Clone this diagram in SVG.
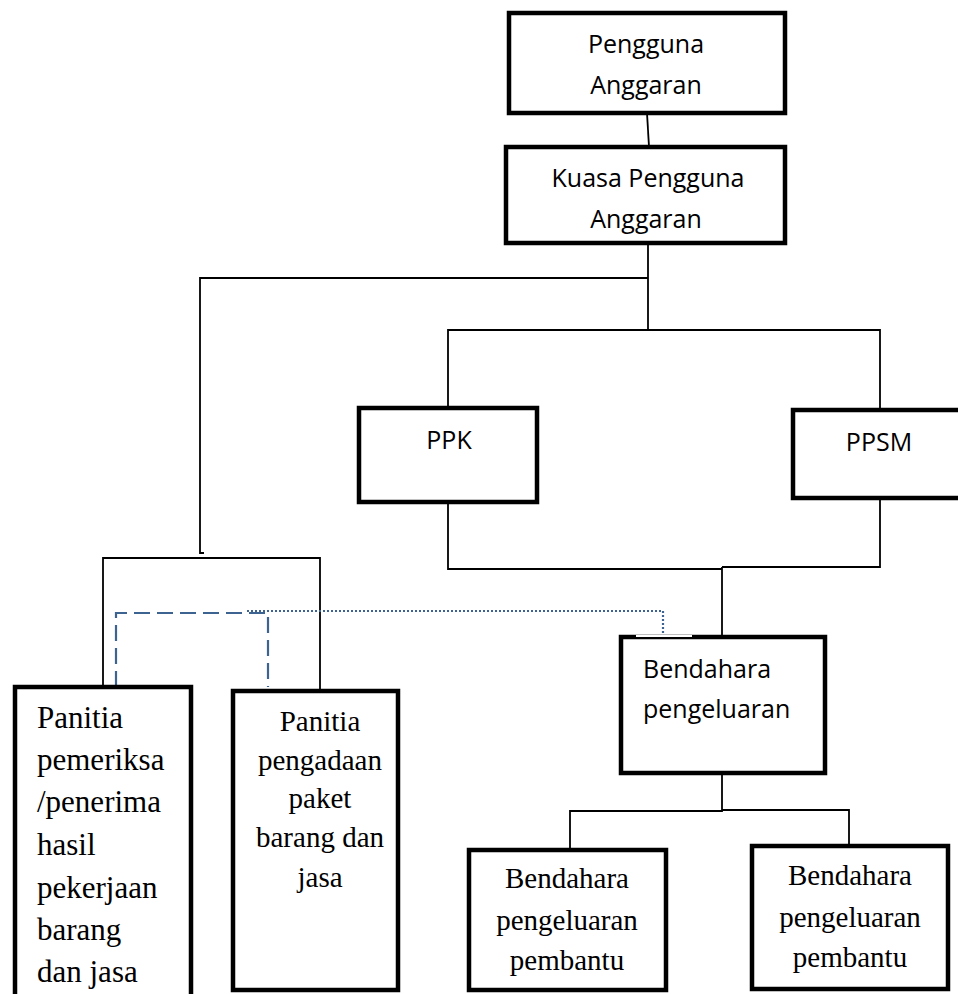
<svg xmlns="http://www.w3.org/2000/svg" width="958" height="994" viewBox="0 0 958 994">
<style>
.box{fill:#fff;stroke:#000;stroke-width:4.5}
.ln{fill:none;stroke:#000;stroke-width:1.8}
.dash{fill:none;stroke:#3d6391;stroke-width:2.2;stroke-dasharray:16 7}
.dot{fill:none;stroke:#3d6391;stroke-width:2.2;stroke-dasharray:2 2}
.s{font-family:"Open Sans","Liberation Sans",sans-serif;font-size:25px;fill:#000}
.t{font-family:"Liberation Serif","Times New Roman",serif;fill:#000}
</style>
<rect width="958" height="994" fill="#fff"/>
<g id="connectors">
<polyline class="ln" points="647,113 649,147"/>
<polyline class="ln" points="648,243 648,330"/>
<polyline class="ln" points="648,278 200,278 200,553 204,553"/>
<polyline class="ln" points="448,408 448,330 880,330 880,410"/>
<polyline class="ln" points="448,502 448,569 722,569"/>
<polyline class="ln" points="880,498 880,567 722,567"/>
<polyline class="ln" points="722,567 722,637"/>
<polyline class="ln" points="103,685 103,558 320,558 320,689"/>
<polyline class="ln" points="722,773 722,811 570,811 570,850"/>
<polyline class="ln" points="722,810 849,810 849,846"/>
<polyline class="dash" points="116,687 116,613 268,613 268,687"/>
<polyline class="dot" points="247,611 663,611 663,637"/>
</g>
<g id="pengguna-anggaran">
<rect class="box" x="509" y="13" width="276" height="100"/>
<text class="s" x="646" y="53" text-anchor="middle">Pengguna</text>
<text class="s" x="646" y="94" text-anchor="middle">Anggaran</text>
</g>
<g id="kuasa-pengguna-anggaran">
<rect class="box" x="506" y="147" width="279" height="96"/>
<text class="s" x="648" y="187" text-anchor="middle">Kuasa Pengguna</text>
<text class="s" x="646" y="228" text-anchor="middle">Anggaran</text>
</g>
<g id="ppk">
<rect class="box" x="359" y="408" width="178" height="94"/>
<text class="s" x="449" y="449" text-anchor="middle">PPK</text>
</g>
<g id="ppsm">
<rect class="box" x="793" y="410" width="180" height="88"/>
<text class="s" x="879" y="451" text-anchor="middle">PPSM</text>
</g>
<g id="bendahara-pengeluaran">
<rect class="box" x="621" y="637" width="204" height="136"/>
<line x1="636" y1="636" x2="692" y2="636" stroke="#fff" stroke-width="2"/>
<text class="s" x="643" y="678">Bendahara</text>
<text class="s" x="643" y="718">pengeluaran</text>
</g>
<g id="panitia-pemeriksa">
<rect class="box" x="15" y="687" width="176" height="330"/>
<g class="t" font-size="31">
<text x="37" y="728">Panitia</text>
<text x="37" y="770">pemeriksa</text>
<text x="37" y="812">/penerima</text>
<text x="37" y="855">hasil</text>
<text x="37" y="898">pekerjaan</text>
<text x="37" y="940">barang</text>
<text x="37" y="982">dan jasa</text>
</g>
</g>
<g id="panitia-pengadaan">
<rect class="box" x="233" y="691" width="165" height="299"/>
<g class="t" font-size="29" text-anchor="middle">
<text x="320" y="731">Panitia</text>
<text x="320" y="770">pengadaan</text>
<text x="320" y="808">paket</text>
<text x="320" y="847">barang dan</text>
<text x="320" y="887">jasa</text>
</g>
</g>
<g id="bendahara-pembantu-1">
<rect class="box" x="469" y="850" width="197" height="140"/>
<g class="t" font-size="29" text-anchor="middle">
<text x="567" y="888">Bendahara</text>
<text x="567" y="930">pengeluaran</text>
<text x="567" y="970">pembantu</text>
</g>
</g>
<g id="bendahara-pembantu-2">
<rect class="box" x="752" y="846" width="196" height="143"/>
<g class="t" font-size="29" text-anchor="middle">
<text x="850" y="885">Bendahara</text>
<text x="850" y="927">pengeluaran</text>
<text x="850" y="967">pembantu</text>
</g>
</g>
</svg>
